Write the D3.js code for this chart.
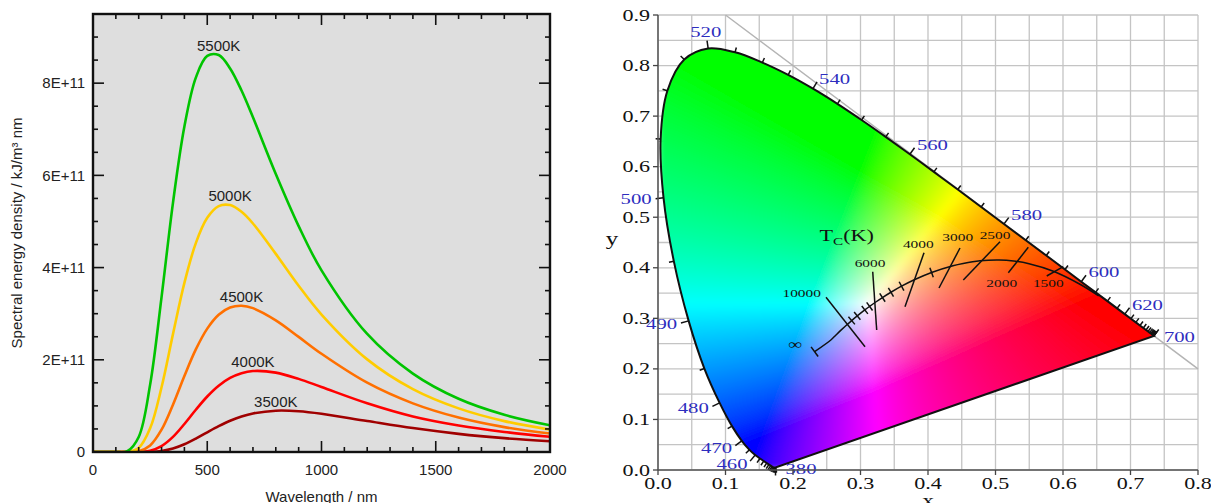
<!DOCTYPE html>
<html><head><meta charset="utf-8">
<script src="https://cdn.jsdelivr.net/npm/d3@7"></script>
<style>body{margin:0;background:#fff;} svg{display:block;}</style>
</head><body><svg id="c" width="1211" height="503"></svg>
<script>
// ================= LEFT PANEL DATA (values in units of 1E+11) =================
const wavelengths = [0,50,100,150,200,250,300,350,400,450,500,550,600,650,700,800,900,1000,1200,1400,1600,1800,2000];
const e5500 = [0,0,0,0.018,0.326,1.461,3.36,5.405,7.06,8.12,8.59,8.61,8.32,7.84,7.26,6.03,4.90,3.94,2.56,1.70,1.154,0.807,0.579];
const e5000 = [0,0,0,0.003,0.088,0.513,1.404,2.557,3.668,4.531,5.079,5.332,5.355,5.209,4.956,4.297,3.606,2.981,2.009,1.364,0.946,0.670,0.486];
const e4500 = [0,0,0,0,0.018,0.143,0.484,1.026,1.649,2.225,2.676,2.977,3.133,3.171,3.120,2.856,2.497,2.130,1.503,1.055,0.747,0.539,0.40];
const e4000 = [0,0,0,0,0.002,0.029,0.128,0.327,0.607,0.916,1.204,1.438,1.607,1.710,1.756,1.722,1.586,1.410,1.057,0.771,0.575,0.435,0.33];
const e3500 = [0,0,0,0,0,0.004,0.023,0.075,0.167,0.290,0.428,0.561,0.678,0.769,0.835,0.896,0.884,0.829,0.672,0.519,0.394,0.300,0.232];
const seriesNames = ["5500K","5000K","4500K","4000K","3500K"];
const seriesColors = ["#00c400","#ffcc00","#ff7000","#ff0000","#a00000"];
const leftXTicks = [0,500,1000,1500,2000];
const leftYTicks = [0,2,4,6,8];
const leftYTickLabels = ["0","2E+11","4E+11","6E+11","8E+11"];

// ================= RIGHT PANEL DATA =================
const locusNm = [380,385,390,395,400,405,410,415,420,425,430,435,440,445,450,455,460,465,470,475,480,485,490,495,500,505,510,515,520,525,530,535,540,545,550,555,560,565,570,575,580,585,590,595,600,605,610,615,620,625,630,635,640,645,650,655,660,665,670,675,680,685,690,695,700];
const locusX = [0.1741,0.1740,0.1738,0.1736,0.1733,0.1730,0.1726,0.1721,0.1714,0.1703,0.1689,0.1669,0.1644,0.1611,0.1566,0.1510,0.1440,0.1355,0.1241,0.1096,0.0913,0.0687,0.0454,0.0235,0.0082,0.0039,0.0139,0.0389,0.0743,0.1142,0.1547,0.1929,0.2296,0.2658,0.3016,0.3373,0.3731,0.4087,0.4441,0.4788,0.5125,0.5448,0.5752,0.6029,0.6270,0.6482,0.6658,0.6801,0.6915,0.7006,0.7079,0.7140,0.7190,0.7230,0.7260,0.7283,0.7300,0.7311,0.7320,0.7327,0.7334,0.7340,0.7344,0.7346,0.7347];
const locusY = [0.0050,0.0050,0.0049,0.0049,0.0048,0.0048,0.0048,0.0048,0.0051,0.0058,0.0069,0.0086,0.0109,0.0138,0.0177,0.0227,0.0297,0.0399,0.0578,0.0868,0.1327,0.2007,0.2950,0.4127,0.5384,0.6548,0.7502,0.8120,0.8338,0.8262,0.8059,0.7816,0.7543,0.7243,0.6923,0.6589,0.6245,0.5896,0.5547,0.5202,0.4866,0.4544,0.4242,0.3965,0.3725,0.3514,0.3340,0.3197,0.3083,0.2993,0.2920,0.2859,0.2809,0.2770,0.2740,0.2717,0.2700,0.2689,0.2680,0.2673,0.2666,0.2660,0.2656,0.2654,0.2653];
const labeledNm = [380,460,470,480,490,500,520,540,560,580,600,620,700];

const planckT = [1000,1200,1500,1800,2000,2200,2500,2800,3000,3500,4000,4500,5000,5500,6000,6500,7000,8000,9000,10000,12000,15000,20000,Infinity];
const planckX = [0.6528,0.6251,0.5857,0.5497,0.5267,0.5056,0.4770,0.4521,0.4369,0.4053,0.3805,0.3608,0.3451,0.3325,0.3221,0.3135,0.3064,0.2952,0.2869,0.2807,0.2719,0.2637,0.2565,0.2320];
const planckY = [0.3444,0.3674,0.3931,0.4080,0.4133,0.4152,0.4137,0.4086,0.4041,0.3907,0.3768,0.3636,0.3516,0.3411,0.3318,0.3236,0.3166,0.3048,0.2956,0.2884,0.2776,0.2671,0.2577,0.2340];
const minorT = [9000,8000,7000,6500,5500,5000,4500,3500];

const isoT  = [10000,6000,4000,3000,2500,2000,1500];
const isoX1 = [0.2489,0.3181,0.3941,0.4474,0.5067,0.5486,0.6004];
const isoY1 = [0.3416,0.3922,0.4298,0.4391,0.4516,0.4405,0.4021];
const isoX2 = [0.3067,0.3240,0.3659,0.4163,0.4523,0.5190,0.5759];
const isoY2 = [0.2439,0.2769,0.3230,0.3600,0.3758,0.3902,0.3837];
const isoLabelX = [0.2129,0.3141,0.3856,0.4440,0.4993,0.5092,0.5782];
const isoLabelY = [0.3507,0.4100,0.4464,0.4602,0.4648,0.3693,0.3693];

const rightXTicks = [0,0.1,0.2,0.3,0.4,0.5,0.6,0.7,0.8];
const rightYTicks = [0,0.1,0.2,0.3,0.4,0.5,0.6,0.7,0.8,0.9];
const gridStep = 0.05;

// ================= DRAW =================
const svg = d3.select("#c");
const SANS = "'Liberation Sans', Arial, sans-serif";
const SERIF = "'Liberation Serif', 'Times New Roman', serif";

// ---------- left panel ----------
const xL = d3.scaleLinear().domain([0,2000]).range([93,550]);
const yL = d3.scaleLinear().domain([0,9.5]).range([452,14]);
const L = svg.append("g");
L.append("rect").attr("x",xL(0)).attr("y",yL(9.5)).attr("width",xL(2000)-xL(0)).attr("height",yL(0)-yL(9.5)).attr("fill","#dedede");
L.append("clipPath").attr("id","lclip").append("rect").attr("x",xL(0)).attr("y",yL(9.5)).attr("width",xL(2000)-xL(0)).attr("height",yL(0)-yL(9.5));

const series = [e5500,e5000,e4500,e4000,e3500];
const lineL = d3.line().x((d,i)=>xL(wavelengths[i])).y(d=>yL(Math.max(0,d))).curve(d3.curveCatmullRom.alpha(0.5));
const cg = L.append("g").attr("clip-path","url(#lclip)");
series.slice().reverse().forEach((s,k)=>{
  const i = series.length-1-k;
  cg.append("path").attr("d",lineL(s)).attr("fill","none").attr("stroke",seriesColors[i]).attr("stroke-width",2.6);
});
series.forEach((s,i)=>{
  const m = d3.maxIndex(s);
  L.append("text").attr("x",xL(wavelengths[m])).attr("y",yL(s[m])-4).attr("text-anchor","middle")
   .style("font-family",SANS).style("font-size","15px").attr("fill","#222").text(seriesNames[i]);
});
// ticks (inward, mirrored)
const tk = L.append("g").attr("stroke","#111").attr("stroke-width",1.6);
d3.range(0,2001,100).forEach(v=>{
  const len = v%500===0 ? 11 : 5;
  tk.append("line").attr("x1",xL(v)).attr("x2",xL(v)).attr("y1",yL(0)).attr("y2",yL(0)-len);
  tk.append("line").attr("x1",xL(v)).attr("x2",xL(v)).attr("y1",yL(9.5)).attr("y2",yL(9.5)+len);
});
d3.range(0,9.51,0.5).forEach(v=>{
  const len = Math.abs(v/2-Math.round(v/2))<1e-6 ? 11 : 5;
  tk.append("line").attr("y1",yL(v)).attr("y2",yL(v)).attr("x1",xL(0)).attr("x2",xL(0)+len);
  tk.append("line").attr("y1",yL(v)).attr("y2",yL(v)).attr("x1",xL(2000)).attr("x2",xL(2000)-len);
});
L.append("rect").attr("x",xL(0)).attr("y",yL(9.5)).attr("width",xL(2000)-xL(0)).attr("height",yL(0)-yL(9.5))
 .attr("fill","none").attr("stroke","#111").attr("stroke-width",2.4);
leftXTicks.forEach(v=>{
  L.append("text").attr("x",xL(v)).attr("y",yL(0)+18).attr("dy","0.35em").attr("text-anchor","middle")
   .style("font-family",SANS).style("font-size","15px").attr("fill","#222").text(v);
});
leftYTicks.forEach((v,i)=>{
  L.append("text").attr("x",xL(0)-8).attr("y",yL(v)).attr("dy","0.35em").attr("text-anchor","end")
   .style("font-family",SANS).style("font-size","15px").attr("fill","#222").text(leftYTickLabels[i]);
});
L.append("text").attr("x",(xL(0)+xL(2000))/2).attr("y",502).attr("text-anchor","middle")
 .style("font-family",SANS).style("font-size","15px").attr("fill","#222").text("Wavelength / nm");
L.append("text").attr("transform",`translate(22,233) rotate(-90)`).attr("text-anchor","middle")
 .style("font-family",SANS).style("font-size","15px").attr("fill","#222").text("Spectral energy density / kJ/m³ nm");

// ---------- right panel ----------
const xR = d3.scaleLinear().domain([0,0.8]).range([658,1198]);
const yR = d3.scaleLinear().domain([0,0.9]).range([470,15]);
const R = svg.append("g");
const SX = 1.38;
function stext(x,y,str,o){
  const g = R.append("g").attr("transform",`translate(${x},${y}) scale(${o.sx||SX},1)`);
  return g.append("text").attr("text-anchor",o.anchor||"middle").attr("dy",o.dy||"0.35em")
   .style("font-family",SERIF).style("font-size",o.size+"px").attr("fill",o.fill||"#111").text(str);
}
// grid
const gridG = R.append("g").attr("stroke","#c4c4c4").attr("stroke-width",1.3);
d3.range(0,0.8001,gridStep).forEach(v=>{
  gridG.append("line").attr("x1",xR(v)).attr("x2",xR(v)).attr("y1",yR(0)).attr("y2",yR(0.9));
});
d3.range(0,0.9001,gridStep).forEach(v=>{
  gridG.append("line").attr("y1",yR(v)).attr("y2",yR(v)).attr("x1",xR(0)).attr("x2",xR(0.8));
});
// x+y=1 line
R.append("line").attr("x1",xR(0.1)).attr("y1",yR(0.9)).attr("x2",xR(0.8)).attr("y2",yR(0.2))
 .attr("stroke","#b4b4b4").attr("stroke-width",1.5);

// gamut colour fill
const pts = locusNm.map((n,i)=>[xR(locusX[i]),yR(locusY[i])]);
const locusPath = d3.line().curve(d3.curveCatmullRom)(pts)+"Z";
const defs = R.append("defs");
defs.append("clipPath").attr("id","gamut").append("path").attr("d",locusPath);
defs.append("filter").attr("id","soft").attr("x","-5%").attr("y","-5%").attr("width","110%").attr("height","110%")
  .append("feGaussianBlur").attr("stdDeviation",3);
const W = Math.round(xR(0.8)-xR(0)), H = Math.round(yR(0)-yR(0.9));
const cv = document.createElement("canvas"); cv.width=W; cv.height=H;
const ctx = cv.getContext("2d"); const img = ctx.createImageData(W,H);
const gam = c => c<=0.0031308 ? 12.92*c : 1.055*Math.pow(c,1/2.4)-0.055;
for(let py=0;py<H;py++){
  const cy = Math.max(0.004, yR.invert(yR(0.9)+py+0.5));
  for(let px=0;px<W;px++){
    const cx = xR.invert(xR(0)+px+0.5);
    const k = (py*W+px)*4;
    const X=cx/cy, Z=(1-cx-cy)/cy;
    let r= 3.2406*X-1.5372-0.4986*Z, g=-0.9689*X+1.8758+0.0415*Z, b=0.0557*X-0.2040+1.0570*Z;
    r=Math.max(r,0); g=Math.max(g,0); b=Math.max(b,0);
    const M=Math.max(r,g,b)||1;
    const e=1.5;
    img.data[k]=Math.round(255*gam(Math.pow(r/M,e))); img.data[k+1]=Math.round(255*gam(Math.pow(g/M,e))); img.data[k+2]=Math.round(255*gam(Math.pow(b/M,e))); img.data[k+3]=255;
  }
}
ctx.putImageData(img,0,0);
R.append("g").attr("clip-path","url(#gamut)")
 .append("image").attr("x",xR(0)).attr("y",yR(0.9)).attr("width",W).attr("height",H)
 .attr("href",cv.toDataURL()).attr("preserveAspectRatio","none").attr("filter","url(#soft)");
R.append("path").attr("d",locusPath).attr("fill","none").attr("stroke","#111").attr("stroke-width",2);

// wavelength ticks + labels
function normalAt(i){
  const a = pts[Math.max(0,i-1)], b = pts[Math.min(pts.length-1,i+1)];
  let dx=b[0]-a[0], dy=b[1]-a[1]; const l=Math.hypot(dx,dy)||1; dx/=l; dy/=l;
  return [dy,-dx];
}
const wt = R.append("g").attr("stroke","#111").attr("stroke-width",1.5);
locusNm.forEach((n,i)=>{
  const p=pts[i], nv=normalAt(i), len = labeledNm.includes(n)?8:5;
  wt.append("line").attr("x1",p[0]).attr("y1",p[1]).attr("x2",p[0]+nv[0]*len).attr("y2",p[1]+nv[1]*len);
});
labeledNm.forEach(n=>{
  const i = locusNm.indexOf(n), p=pts[i];
  if(i===0 || i===locusNm.length-1){
    stext(p[0]+10,p[1]+1,String(n),{size:15,anchor:"start",fill:"#2d2dbe"});
    return;
  }
  const nv=normalAt(i);
  const anchor = nv[0]>0.35?"start":(nv[0]<-0.35?"end":"middle");
  const d = anchor==="middle"?17:12;
  stext(p[0]+nv[0]*d,p[1]+nv[1]*d,String(n),{size:15,anchor,fill:"#2d2dbe"});
});

// Planckian locus
const ppts = planckT.map((t,i)=>[xR(planckX[i]),yR(planckY[i])]);
R.append("path").attr("d",d3.line().curve(d3.curveCatmullRom)(ppts)).attr("fill","none").attr("stroke","#111").attr("stroke-width",1.5);
const pg = R.append("g").attr("stroke","#111").attr("stroke-width",1.5);
function pNormal(i){
  const a=ppts[Math.max(0,i-1)], b=ppts[Math.min(ppts.length-1,i+1)];
  let dx=b[0]-a[0], dy=b[1]-a[1]; const l=Math.hypot(dx,dy)||1; return [dy/l,-dx/l];
}
minorT.forEach(t=>{
  const i=planckT.indexOf(t), p=ppts[i], nv=pNormal(i);
  pg.append("line").attr("x1",p[0]-nv[0]*5).attr("y1",p[1]-nv[1]*5).attr("x2",p[0]+nv[0]*5).attr("y2",p[1]+nv[1]*5);
});
{ const i=ppts.length-1, p=ppts[i], nv=pNormal(i);
  pg.append("line").attr("x1",p[0]-nv[0]*6).attr("y1",p[1]-nv[1]*6).attr("x2",p[0]+nv[0]*6).attr("y2",p[1]+nv[1]*6); }
isoT.forEach((t,i)=>{
  pg.append("line").attr("x1",xR(isoX1[i])).attr("y1",yR(isoY1[i])).attr("x2",xR(isoX2[i])).attr("y2",yR(isoY2[i]));
  stext(xR(isoLabelX[i]),yR(isoLabelY[i]),String(t),{size:11,sx:1.4});
});
stext(xR(0.203),yR(0.249),"∞",{size:14});
{ const t = stext(xR(0.2796),yR(0.4648),"",{size:16});
  t.append("tspan").text("T");
  t.append("tspan").attr("dy",4).style("font-size","11px").text("C");
  t.append("tspan").attr("dy",-4).text("(K)"); }

// axes
R.append("line").attr("x1",xR(0)).attr("x2",xR(0)).attr("y1",yR(0)).attr("y2",yR(0.9)).attr("stroke","#555").attr("stroke-width",1.5);
R.append("line").attr("x1",xR(0)).attr("x2",xR(0.8)).attr("y1",yR(0)).attr("y2",yR(0)).attr("stroke","#555").attr("stroke-width",1.5);
rightYTicks.forEach(v=>{
  R.append("line").attr("x1",xR(0)-5).attr("x2",xR(0)).attr("y1",yR(v)).attr("y2",yR(v)).attr("stroke","#444").attr("stroke-width",1.3);
  stext(xR(0)-8,yR(v),v.toFixed(1),{size:16,anchor:"end"});
});
rightXTicks.forEach(v=>{
  R.append("line").attr("x1",xR(v)).attr("x2",xR(v)).attr("y1",yR(0)).attr("y2",yR(0)+5).attr("stroke","#444").attr("stroke-width",1.3);
  stext(xR(v),yR(0)+13.5,v.toFixed(1),{size:16});
});
stext(612,239,"y",{size:18});
stext(928,506,"x",{size:17,dy:"0"});
</script></body></html>
